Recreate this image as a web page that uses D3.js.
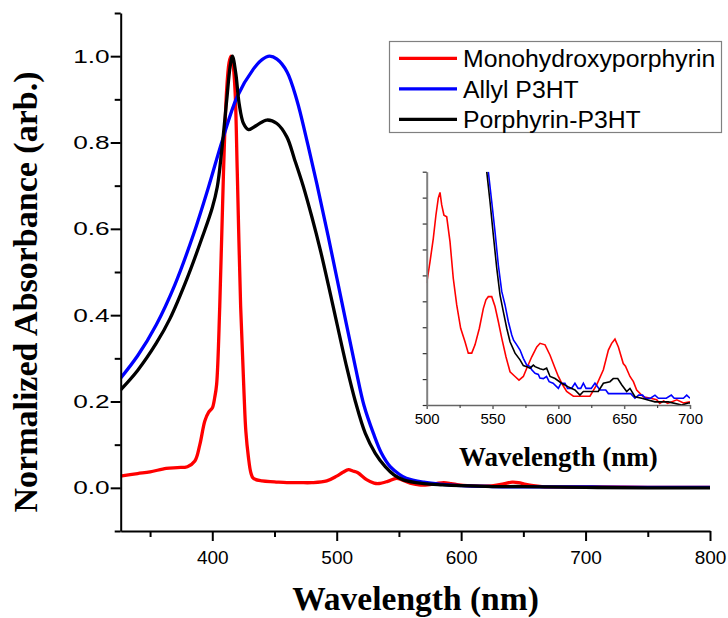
<!DOCTYPE html>
<html>
<head>
<meta charset="utf-8">
<script src="https://cdn.jsdelivr.net/npm/d3@7"></script>
<style>
  body { margin: 0; background: #fff; }
  svg { display: block; }
  .tick text { font-family: "Liberation Sans", Arial, sans-serif; fill: #000; }
  .title { font-family: "Liberation Serif", "Times New Roman", serif; font-weight: bold; }
</style>
</head>
<body>
<div id="chart"></div>
<script>
// series names and colours
var seriesNames = ["Monohydroxyporphyrin", "Allyl P3HT", "Porphyrin-P3HT"];
var seriesColors = ["#ff0000", "#0000ff", "#000000"];

// main spectra, [wavelength nm, normalized absorbance]
var monoMain = [[326,0.027],[340,0.033],[350,0.037],[363,0.045],[372,0.047],[380,0.049],[386,0.062],[390,0.100],
  [394,0.155],[397,0.175],[400,0.185],[402,0.210],[403.5,0.24],[406,0.42],[409,0.73],[411.5,0.92],[413.5,0.985],
  [415,1.0],[416.5,0.985],[418.3,0.92],[420.1,0.73],[422.8,0.42],[425.5,0.22],[427,0.13],[429,0.072],[431,0.035],
  [433,0.022],[440,0.016],[450,0.014],[460,0.012],[470,0.012],[480,0.012],[492,0.016],[500,0.027],[505,0.036],
  [509.5,0.042],[513,0.039],[517,0.035],[524,0.019],[530,0.011],[534,0.010],[541,0.015],[548,0.022],[553,0.018],
  [559,0.011],[566,0.007],[573,0.007],[580,0.010],[586,0.012],[592,0.010],[598,0.007],[605,0.005],[615,0.004],
  [626,0.005],[634,0.009],[641,0.013],[646,0.012],[652,0.008],[658,0.005],[665,0.003],[680,0.002],[700,0.002],
  [750,0.001],[800,0.001]];
var allylMain = [[326,0.253],[340,0.306],[355,0.378],[370,0.471],[385,0.588],[397,0.697],[408,0.804],[420,0.906],
  [433,0.970],[440,0.992],[446,1.0],[452,0.993],[460,0.964],[468,0.898],[476,0.805],[484,0.705],[493,0.585],
  [504,0.432],[515,0.28],[522,0.19],[529.5,0.126],[536,0.08],[543,0.049],[550,0.032],[556,0.022],
  [570,0.013],[585,0.008],[600,0.005],[625,0.003],[650,0.002],[700,0.002],[750,0.001],[800,0.001]];
var porphMain = [[326,0.226],[340,0.272],[355,0.335],[366,0.392],[380,0.487],[392,0.581],[400,0.649],[404,0.697],
  [407.6,0.782],[411.6,0.898],[414.3,0.975],[416.2,1.0],[418.9,0.960],[421.6,0.890],[425.1,0.844],
  [429.1,0.830],[435.8,0.840],[443.8,0.852],[451.9,0.844],[459.9,0.813],[466,0.762],[473,0.700],[480,0.628],
  [487,0.549],[496,0.435],[508,0.28],[515,0.20],[523,0.126],[531,0.08],[539,0.049],[546,0.030],[554,0.018],[570,0.010],
  [585,0.007],[600,0.005],[625,0.003],[650,0.003],[700,0.001],[750,0.000],[800,0.000]];

// inset spectra (500-700 nm zoom)
var monoInset = [[500,0.0235],[502.5,0.0276],[505,0.0321],[507,0.0366],[508.8,0.0399],[510.1,0.0410],[511.4,0.0386],
  [513.1,0.0366],[515.2,0.0363],[517.7,0.0315],[520.2,0.0244],[522.8,0.0193],[525.8,0.0148],[529.1,0.0122],
  [531.6,0.0100],[534.2,0.0100],[536.7,0.0116],[540,0.0148],[543,0.0186],[545,0.0203],[546.8,0.0209],[549.4,0.0209],
  [551.9,0.0190],[554.4,0.0161],[557,0.0129],[560.2,0.0093],[563.3,0.0064],[567.1,0.0055],[570.1,0.0048],
  [573.4,0.0055],[576,0.0071],[579.8,0.0093],[583.6,0.0112],[586.1,0.0119],[589.9,0.0116],[593.7,0.0096],
  [597.5,0.0071],[600,0.0055],[603,0.0040],[606.3,0.0026],[611.4,0.0017],[618,0.0017],[624,0.0017],[629.1,0.0039],
  [634.2,0.0068],[638,0.0106],[640.5,0.0119],[643,0.0127],[645.6,0.0112],[649.3,0.0080],[651,0.0075],[654.4,0.0055],
  [657,0.0045],[659.5,0.0029],[664.5,0.0016],[670,0.0013],[674.7,0.0010],[677,0.0003],[680,0.0008],[683,0.0003],
  [690,0.0010],[695,0.0004],[700,0.0006]];
var allylInset = [[546.8,0.045],[549.4,0.0392],[551.9,0.0334],[554.4,0.0270],[557,0.0219],[559.5,0.0193],[562,0.0161],
  [564.6,0.0135],[566,0.0125],[568.4,0.0116],[570.9,0.0106],[573.4,0.0090],[576,0.0077],[578.5,0.0074],[579.8,0.0068],
  [582.3,0.0061],[584.8,0.0059],[586,0.0052],[588.6,0.0051],[591,0.0055],[593,0.0045],[596,0.0042],[600,0.0032],
  [602,0.0042],[605,0.0042],[607,0.0032],[610,0.0032],[612.6,0.0042],[615,0.0032],[617,0.0032],[619,0.0042],
  [621,0.0032],[625,0.0032],[627.8,0.0042],[631.6,0.0029],[636,0.0029],[638,0.0022],[648,0.0022],[655,0.0022],
  [658.2,0.0013],[661,0.0019],[664,0.0019],[666,0.0013],[670,0.0013],[673.4,0.0019],[676,0.0013],[682,0.0013],
  [685.8,0.0019],[688,0.0013],[695,0.0013],[697.5,0.0019],[700,0.0013]];
var porphInset = [[545.6,0.045],[548.1,0.0392],[550.6,0.0328],[553.2,0.0264],[555.7,0.0212],[558.2,0.0180],
  [560.8,0.0148],[563.3,0.0122],[567.1,0.0100],[570.9,0.0087],[573.4,0.0076],[576,0.0074],[578.5,0.0071],[581,0.0077],
  [582.3,0.0074],[586.1,0.0070],[588.6,0.0068],[591.1,0.0071],[593.7,0.0055],[597.5,0.0051],[602.5,0.0042],
  [607.6,0.0035],[612.6,0.0029],[616.4,0.0019],[619,0.0026],[630.3,0.0026],[634.2,0.0042],[639.2,0.0045],
  [641.7,0.0051],[645.1,0.0051],[648.1,0.0039],[651.9,0.0026],[654.4,0.0032],[658.2,0.0016],[663.3,0.0013],
  [673.4,0.0006],[683.5,0.0006],[693.7,0.0],[698.7,0.0004],[700,0.0004]];

// tick values
var xMajor = [400, 500, 600, 700, 800];
var xMinor = [350, 450, 550, 650, 750];
var yMajor = [0, 0.2, 0.4, 0.6, 0.8, 1.0];
var yMinor = [-0.1, 0.1, 0.3, 0.5, 0.7, 0.9, 1.1];
var insetXMajor = [500, 550, 600, 650, 700];
var insetXMinor = [525, 575, 625, 675];
var insetYTicks = [0, 0.005, 0.01, 0.015, 0.02, 0.025, 0.03, 0.035, 0.04, 0.045];

var W = 728, H = 618;
var svg = d3.select("#chart").append("svg").attr("width", W).attr("height", H);

// ---- main plot ----
var x = d3.scaleLinear().domain([326.4, 800]).range([120.7, 710]);
var y = d3.scaleLinear().domain([-0.1, 1.1]).range([531, 13]);

svg.append("clipPath").attr("id", "clipMain").append("rect")
  .attr("x", 120.7).attr("y", 13).attr("width", 710 - 120.7).attr("height", 531 - 13);

var line = d3.line().x(function (d) { return x(d[0]); }).y(function (d) { return y(d[1]); })
  .curve(d3.curveCatmullRom.alpha(0.5));

var mainG = svg.append("g").attr("clip-path", "url(#clipMain)");
[monoMain, allylMain, porphMain].forEach(function (s, i) {
  mainG.append("path").attr("d", line(s)).attr("fill", "none")
    .attr("stroke", seriesColors[i]).attr("stroke-width", 3.3).attr("stroke-linejoin", "round");
});

function styleAxis(g, w, fs) {
  g.select(".domain").attr("stroke", "#000").attr("stroke-width", w);
  g.selectAll(".tick line").attr("stroke", "#000").attr("stroke-width", w);
  g.selectAll(".tick text").style("font-size", fs + "px");
}

var gx = svg.append("g").attr("transform", "translate(0,531)")
  .call(d3.axisBottom(x).tickValues(xMajor).tickSize(10).tickSizeOuter(0).tickPadding(9.5)
    .tickFormat(d3.format("d")));
styleAxis(gx, 2, 19);
var gxm = svg.append("g").attr("transform", "translate(0,531)")
  .call(d3.axisBottom(x).tickValues(xMinor).tickSize(6).tickSizeOuter(0).tickFormat(""));
gxm.select(".domain").remove();
styleAxis(gxm, 2, 19);

var gy = svg.append("g").attr("transform", "translate(120.7,0)")
  .call(d3.axisLeft(y).tickValues(yMajor).tickSize(10).tickSizeOuter(0).tickPadding(1)
    .tickFormat(d3.format(".1f")));
styleAxis(gy, 2, 19);
// y labels in the reference are drawn wider than the x labels
gy.selectAll(".tick text").attr("x", null).attr("transform", "translate(-11,0) scale(1.38,1)");
var gym = svg.append("g").attr("transform", "translate(120.7,0)")
  .call(d3.axisLeft(y).tickValues(yMinor).tickSize(6).tickSizeOuter(0).tickFormat(""));
gym.select(".domain").remove();
styleAxis(gym, 2, 19);

svg.append("text").attr("class", "title").attr("x", 415.5).attr("y", 610)
  .attr("text-anchor", "middle").style("font-size", "33.5px").text("Wavelength (nm)");
svg.append("text").attr("class", "title")
  .attr("transform", "translate(36.7,292) rotate(-90)")
  .attr("text-anchor", "middle").style("font-size", "34px").text("Normalized Absorbance (arb.)");

// ---- legend ----
var leg = svg.append("g");
leg.append("rect").attr("x", 389.5).attr("y", 41.5).attr("width", 332).attr("height", 91)
  .attr("fill", "#fff").attr("stroke", "#808080").attr("stroke-width", 1.2);
seriesNames.forEach(function (n, i) {
  var ly = 58.3 + i * 30.5;
  leg.append("line").attr("x1", 399).attr("x2", 457).attr("y1", ly).attr("y2", ly)
    .attr("stroke", seriesColors[i]).attr("stroke-width", 3.3);
  leg.append("text").attr("x", 463).attr("y", ly + 8.8)
    .style("font-family", "'Liberation Sans', Arial, sans-serif").style("font-size", "24.8px").text(n);
});

// ---- inset ----
var ix = d3.scaleLinear().domain([500, 700]).range([426.7, 690]);
var iy = d3.scaleLinear().domain([0, 0.045]).range([405, 171.7]);

svg.append("clipPath").attr("id", "clipInset").append("rect")
  .attr("x", 426.7).attr("y", 171.7).attr("width", 690 - 426.7).attr("height", 405 - 171.7);

var iline = d3.line().x(function (d) { return ix(d[0]); }).y(function (d) { return iy(d[1]); });
var insetG = svg.append("g").attr("clip-path", "url(#clipInset)");
[monoInset, allylInset, porphInset].forEach(function (s, i) {
  insetG.append("path").attr("d", iline(s)).attr("fill", "none")
    .attr("stroke", seriesColors[i]).attr("stroke-width", 1.6);
});

var igx = svg.append("g").attr("transform", "translate(0,405)")
  .call(d3.axisBottom(ix).tickValues(insetXMajor).tickSize(4).tickSizeOuter(0).tickPadding(4.7)
    .tickFormat(d3.format("d")));
styleAxis(igx, 1.5, 15);
igx.selectAll(".domain, .tick line").attr("stroke", "#666");
var igxm = svg.append("g").attr("transform", "translate(0,405)")
  .call(d3.axisBottom(ix).tickValues(insetXMinor).tickSize(3).tickSizeOuter(0).tickFormat(""));
igxm.select(".domain").remove();
styleAxis(igxm, 1.2, 15);
igxm.selectAll(".tick line").attr("stroke", "#444");

var igy = svg.append("g").attr("transform", "translate(426.7,0)")
  .call(d3.axisLeft(iy).tickValues(insetYTicks).tickSize(4).tickSizeOuter(0).tickFormat(""));
styleAxis(igy, 1.2, 15);
igy.select(".domain").attr("stroke", "#808080").attr("stroke-width", 2);
igy.selectAll(".tick line").attr("stroke", "#333");

svg.append("text").attr("class", "title").attr("x", 558.3).attr("y", 465.7)
  .attr("text-anchor", "middle").style("font-size", "27px").text("Wavelength (nm)");
</script>
</body>
</html>
